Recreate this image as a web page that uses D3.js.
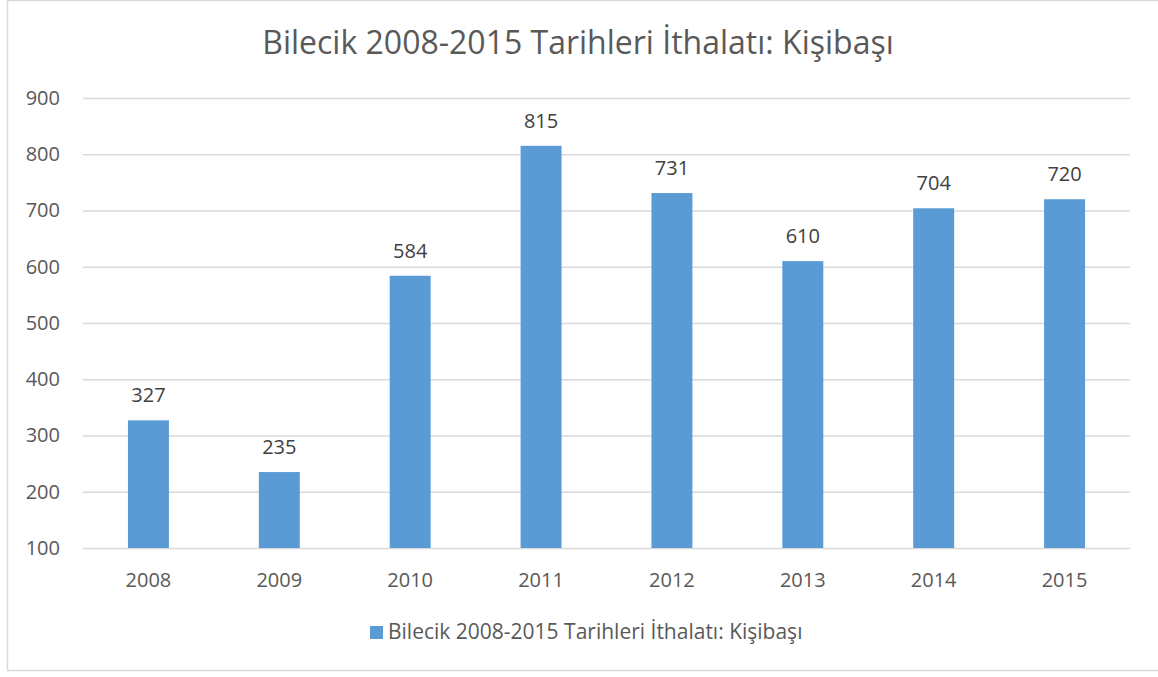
<!DOCTYPE html>
<html>
<head>
<meta charset="utf-8">
<script src="https://cdn.jsdelivr.net/npm/d3@7"></script>
<style>
body{margin:0;background:#fff;}
text{font-family:"Open Sans",sans-serif;}
</style>
</head>
<body>
<svg id="svg1" width="1158" height="677"></svg>
<script>
var years = ["2008","2009","2010","2011","2012","2013","2014","2015"]
var values = [327,235,584,815,731,610,704,720]
var yTicks = [100,200,300,400,500,600,700,800,900]
var title = "Bilecik 2008-2015 Tarihleri İthalatı: Kişibaşı"

var svg = d3.select("#svg1")
var barColor = "#5b9bd5"
var fs = 20

// chart border
svg.append("rect")
    .attr("x",7.5).attr("y",0.5)
    .attr("width",1170).attr("height",670)
    .attr("fill","none")
    .attr("stroke","#d9d9d9")
    .attr("stroke-width",1.5)

var x = d3.scaleBand().domain(years).range([83,1130])
    .paddingInner(0.687).paddingOuter(0.3435)
var y = d3.scaleLinear().domain([100,900]).range([548,98])

// gridlines
svg.append("g").selectAll("line")
    .data(yTicks)
    .enter()
    .append("line")
    .attr("x1",83).attr("x2",1130)
    .attr("y1",function(d){ return y(d)+0.5})
    .attr("y2",function(d){ return y(d)+0.5})
    .attr("stroke","#d9d9d9")
    .attr("stroke-width",1.5)

// y labels
var yAxis = d3.axisLeft(y).tickValues(yTicks).tickSize(0).tickPadding(0)
var gy = svg.append("g").attr("transform","translate(60,0)").call(yAxis)
gy.select(".domain").remove()
gy.selectAll("text").attr("font-size",fs).attr("fill","#595959")

// x labels
var xAxis = d3.axisBottom(x).tickSize(0).tickPadding(0)
var gx = svg.append("g").attr("transform","translate(0,573)").call(xAxis)
gx.select(".domain").remove()
gx.selectAll("text").attr("font-size",fs).attr("fill","#595959")

// bars
svg.append("g").selectAll("rect")
    .data(values)
    .enter()
    .append("rect")
    .attr("x",function(d,i){ return x(years[i])})
    .attr("width",x.bandwidth())
    .attr("y",function(d){ return y(d)})
    .attr("height",function(d){ return y(100)-y(d)})
    .attr("fill",barColor)

// value labels
svg.append("g").selectAll("text")
    .data(values)
    .enter()
    .append("text")
    .attr("x",function(d,i){ return x(years[i])+x.bandwidth()/2})
    .attr("y",function(d){ return y(d)-18})
    .attr("text-anchor","middle")
    .attr("font-size",fs)
    .attr("fill","#404040")
    .text(function(d){ return d})

// title
svg.append("text")
    .attr("x",578).attr("y",54)
    .attr("text-anchor","middle")
    .attr("font-size",32)
    .attr("fill","#595959")
    .text(title)

// legend
svg.append("rect")
    .attr("x",370).attr("y",626)
    .attr("width",13).attr("height",13)
    .attr("fill",barColor)
svg.append("text")
    .attr("x",388).attr("y",639)
    .attr("font-size",21)
    .attr("fill","#595959")
    .text(title)
</script>
</body>
</html>
